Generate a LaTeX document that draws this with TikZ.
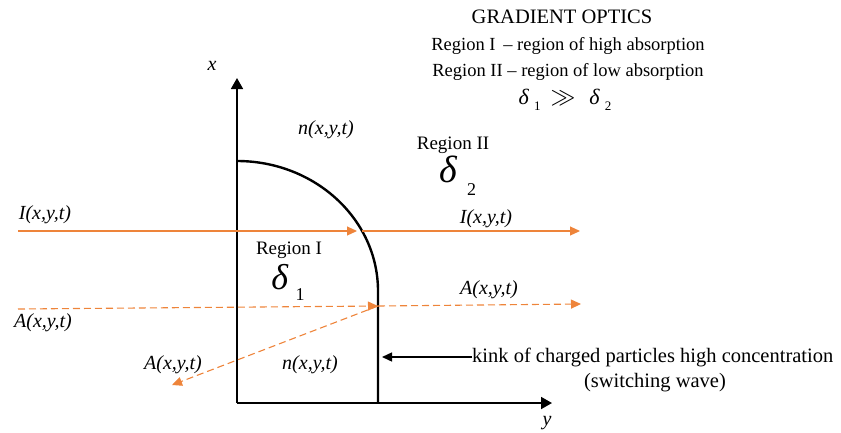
\documentclass[tikz,border=0pt]{standalone}
\usepackage{fontspec}
\setmainfont{Liberation Serif}
\usetikzlibrary{arrows.meta}
\definecolor{rayorange}{RGB}{238,132,58}
\tikzset{
  txt/.style={inner sep=0pt, font=\fontsize{19}{21}\selectfont},
  var/.style={inner sep=0pt, font=\fontsize{20}{22}\selectfont\itshape},
  axis/.style={line width=1.8pt, -{Triangle[length=11pt,width=12pt]}},
  front/.style={line width=2.4pt},
  ray/.style={rayorange, line width=1.1pt, -{Triangle[length=10pt,width=9pt]}},
  wave/.style={ray, dash pattern=on 7pt off 4pt},
  pointer/.style={line width=1.4pt, -{Triangle[length=10pt,width=9pt]}},
}
\begin{document}
\begin{tikzpicture}[x=1pt,y=-1pt]
  \useasboundingbox (0,0) rectangle (841,432);
  \coordinate (origin) at (237,403);
  \coordinate (xtip) at (237,78);
  \coordinate (ytip) at (552,403);
  \coordinate (Iin) at (18,231);
  \coordinate (Iend) at (357,231);
  \coordinate (Iout) at (362,231);
  \coordinate (Ifar) at (580,231);
  \coordinate (Ain) at (18,309);
  \coordinate (hit) at (378,306);
  \coordinate (Afar) at (581,304);
  \coordinate (Aback) at (172,385);
  \coordinate (kinkpt) at (382,357);
  \draw
    (212,66) node[var] (xlab){x}
    (547,423) node[var] (ylab){y}
    (326,130) node[var] (ntop){n(x,y,t)}
    (310,365) node[var] (nbot){n(x,y,t)}
    (45,215) node[var] (Ileft){I(x,y,t)}
    (486,219) node[var] (Iright){I(x,y,t)}
    (43,323) node[var] (Aleft){A(x,y,t)}
    (173,365) node[var] (Arefl){A(x,y,t)}
    (489,290) node[var] (Aright){A(x,y,t)}
    (289,250) node[txt] (reg1){Region I}
    (453,145) node[txt] (reg2){Region II}
    (288,282) node[inner sep=0pt, font=\fontsize{36}{38}\selectfont] (delta1){\textit{δ}\hspace{7pt}\raisebox{-11pt}{\fontsize{18}{18}\selectfont 1}}
    (458,176) node[inner sep=0pt, font=\fontsize{38}{40}\selectfont] (delta2){\textit{δ}\hspace{9pt}\raisebox{-13pt}{\fontsize{18}{18}\selectfont 2}}
    (472,357) node[txt, anchor=west, font=\fontsize{20.5}{22}\selectfont] (kink){kink of charged particles high concentration}
    (655,383) node[txt, font=\fontsize{20.5}{22}\selectfont] (wave){(switching wave)}
    (562,17) node[txt, font=\fontsize{20.5}{22}\selectfont] (title){GRADIENT OPTICS}
    (568,46) node[txt, font=\fontsize{18.5}{20}\selectfont] (line1){Region I \,– region of high absorption}
    (568,72) node[txt, font=\fontsize{18.5}{20}\selectfont] (line2){Region II – region of low absorption}
    (565,100) node[txt, font=\fontsize{22}{24}\selectfont] (ratio){\textit{δ}\hspace{5pt}\raisebox{-6pt}{\fontsize{13}{13}\selectfont 1}\hspace{10pt}{\fontsize{28}{28}\selectfont$\gg$}\hspace{14pt}\textit{δ}\hspace{5pt}\raisebox{-6pt}{\fontsize{13}{13}\selectfont 2}};
  \draw[axis] (origin) -- (xtip);
  \draw[axis] (origin) -- (ytip);
  \draw[front] (237,161) arc[start angle=-90, end angle=0, x radius=141, y radius=130] -- (378,403);
  \begin{scope}
    \draw[ray] (Iin) -- (Iend);
    \draw[ray] (Iout) -- (Ifar);
    \draw[wave] (Ain) -- (hit);
    \draw[wave] (hit) -- (Afar);
    \draw[wave] (hit) -- (Aback);
    \draw[pointer] (kink.west) -- (kinkpt);
  \end{scope}
\end{tikzpicture}
\end{document}
